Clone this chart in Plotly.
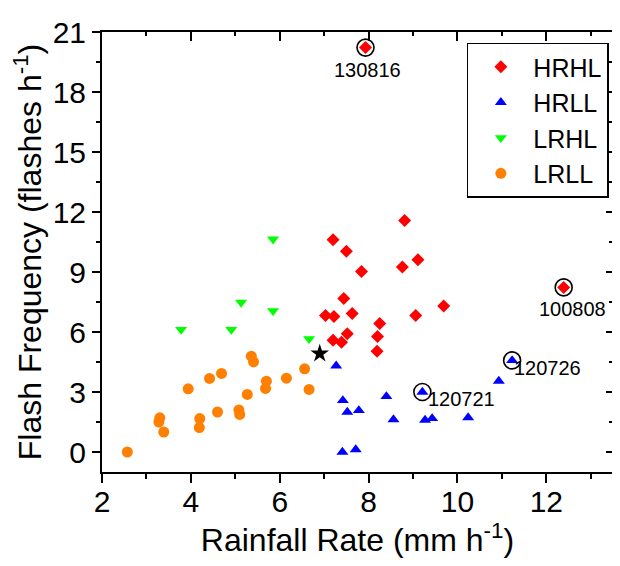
import plotly.graph_objects as go

# ---- data ----
hrhl_x = [7.20, 7.50, 7.84, 8.81, 9.11, 8.76, 7.44, 7.03, 7.22, 7.63, 8.25, 8.20, 8.19, 7.20, 7.39, 7.52, 9.06, 9.69, 7.93, 12.39]
hrhl_y = [10.61, 10.04, 9.03, 11.57, 9.61, 9.25, 7.67, 6.82, 6.78, 6.92, 6.42, 5.77, 5.04, 5.59, 5.49, 5.91, 6.83, 7.30, 20.22, 8.23]

hrll_x = [7.27, 7.42, 7.52, 7.78, 8.40, 8.56, 9.21, 9.27, 9.43, 10.24, 10.93, 7.41, 7.71, 11.23]
hrll_y = [4.31, 2.58, 2.00, 2.08, 2.78, 1.62, 3.00, 1.60, 1.68, 1.72, 3.55, 0.00, 0.12, 4.58]

lrhl_x = [3.78, 4.91, 5.13, 5.85, 5.85, 6.66]
lrhl_y = [6.12, 6.12, 7.48, 10.64, 7.06, 5.66]

lrll_x = [2.57, 3.30, 3.28, 3.39, 3.94, 4.20, 4.19, 4.42, 4.69, 4.60, 5.08, 5.10, 5.27, 5.36, 5.41, 5.70, 5.68, 6.15, 6.56, 6.66]
lrll_y = [0.00, 1.71, 1.50, 1.00, 3.16, 1.67, 1.22, 3.68, 3.93, 2.00, 2.10, 1.88, 2.88, 4.79, 4.51, 3.54, 3.18, 3.69, 4.16, 3.13]

star_x = [6.90]
star_y = [4.92]

event_labels = ["130816", "100808", "120721", "120726"]
event_x = [7.93, 12.39, 9.21, 11.23]
event_y = [20.22, 8.23, 3.00, 4.58]

series_names = ["HRHL", "HRLL", "LRHL", "LRLL"]

x_range = [2, 13.5]
y_range = [-1, 21]

# ---- styles ----
FONT = "Arial, Liberation Sans, sans-serif"
label_shift = [(2, -22), (9, -22), (39, -7), (35, -8)]

fig = go.Figure()

fig.add_trace(go.Scatter(
    x=event_x, y=event_y, mode="markers", showlegend=False, hoverinfo="skip",
    marker=dict(symbol="circle-open", size=17, color="black", line=dict(width=1.6, color="black")),
))

styles = [
    (hrhl_x, hrhl_y, "diamond", "#FF0000", 10),
    (hrll_x, hrll_y, "triangle-up", "#0000FF", 10.5),
    (lrhl_x, lrhl_y, "triangle-down", "#00FF00", 10.5),
    (lrll_x, lrll_y, "circle", "#FF8000", 11),
]
for name, (xs, ys, sym, col, sz) in zip(series_names, styles):
    fig.add_trace(go.Scatter(
        x=xs, y=ys, mode="markers", name=name,
        marker=dict(symbol=sym, size=sz, color=col, line=dict(width=0)),
    ))

fig.add_trace(go.Scatter(
    x=star_x, y=star_y, mode="markers", showlegend=False,
    marker=dict(symbol="star", size=14, color="black", line=dict(width=0)),
))

# invisible trace so the mirrored inside-tick axes are drawn
fig.add_trace(go.Scatter(x=[None], y=[None], xaxis="x2", yaxis="y2", showlegend=False, hoverinfo="skip"))

for lab, ex, ey, (dx, dy) in zip(event_labels, event_x, event_y, label_shift):
    fig.add_annotation(x=ex, y=ey, xref="x", yref="y", text=lab, showarrow=False,
                       xshift=dx, yshift=dy, font=dict(family=FONT, size=20, color="black"))

axis_common = dict(showgrid=False, zeroline=False, linecolor="black", linewidth=2,
                   tickcolor="black", tickwidth=1.5, color="black")

fig.update_layout(
    width=612, height=558,
    margin=dict(l=94, r=7, t=24, b=94, autoexpand=False),
    paper_bgcolor="white", plot_bgcolor="white",
    font=dict(family=FONT, color="black"),
    xaxis=dict(range=x_range, tick0=2, dtick=2, ticks="outside", ticklen=9,
               showline=True, mirror=True, ticklabelstandoff=-7,
               minor=dict(dtick=1, ticks="outside", ticklen=5, tickwidth=1.5, tickcolor="black"),
               tickfont=dict(size=30, family=FONT),
               title=dict(text="Rainfall Rate (mm h<sup>-1</sup>)", font=dict(size=32, family=FONT), standoff=0),
               **axis_common),
    yaxis=dict(range=y_range, tick0=0, dtick=3, ticks="outside", ticklen=8,
               showline=True, mirror=True,
               minor=dict(dtick=1.5, ticks="outside", ticklen=4, tickwidth=1.5, tickcolor="black"),
               tickfont=dict(size=30, family=FONT),
               title=dict(text="Flash Frequency (flashes h<sup>-1</sup>)", font=dict(size=32, family=FONT), standoff=4),
               **axis_common),
    xaxis2=dict(range=x_range, overlaying="x", side="top", anchor="y", tick0=2, dtick=2,
                ticks="inside", ticklen=9, showticklabels=False, showline=False,
                showgrid=False, zeroline=False, tickcolor="black", tickwidth=1.5,
                minor=dict(dtick=1, ticks="inside", ticklen=4, tickwidth=1.5, tickcolor="black")),
    yaxis2=dict(range=y_range, overlaying="y", side="right", anchor="x", tick0=0, dtick=3,
                ticks="inside", ticklen=7, showticklabels=False, showline=False,
                showgrid=False, zeroline=False, tickcolor="black", tickwidth=1.5,
                minor=dict(dtick=1.5, ticks="inside", ticklen=4, tickwidth=1.5, tickcolor="black")),
    legend=dict(x=0.714, y=0.976, xanchor="left", yanchor="top",
                bgcolor="white", bordercolor="black", borderwidth=1.5,
                font=dict(size=25, family=FONT, color="black"),
                itemwidth=55, tracegroupgap=0),
    showlegend=True,
)

fig.write_html("out.html")
